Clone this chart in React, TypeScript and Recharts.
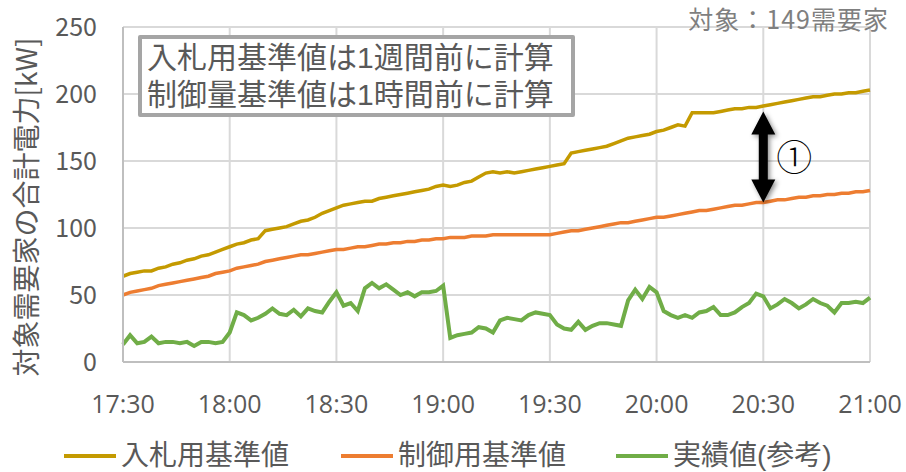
import { CartesianGrid, Line, LineChart, ReferenceLine, XAxis, YAxis } from 'recharts'

// 17:30 から 2分刻み
const timeMinutes = Array.from({ length: 106 }, (_, i) => i * 2)

const xTicks = [0, 30, 60, 90, 120, 150, 180, 210]
const xTickLabels = ['17:30', '18:00', '18:30', '19:00', '19:30', '20:00', '20:30', '21:00']
const yTicks = [0, 50, 100, 150, 200, 250]

const bidBaseline = [
  64, 66, 67, 68, 68, 70, 71, 73, 74, 76, 77, 79, 80, 82, 84, 86, 88, 89, 91, 92,
  98, 99, 100, 101, 103, 105, 106, 108, 111, 113, 115, 117, 118, 119, 120, 120, 122, 123, 124, 125,
  126, 127, 128, 129, 131, 132, 131, 132, 134, 135, 138, 141, 142, 141, 142, 141, 142, 143, 144, 145,
  146, 147, 148, 156, 157, 158, 159, 160, 161, 163, 165, 167, 168, 169, 170, 172, 173, 175, 177, 176,
  186, 186, 186, 186, 187, 188, 189, 189, 190, 190, 191, 192, 193, 194, 195, 196, 197, 198, 198, 199,
  200, 200, 201, 201, 202, 203,
]

const controlBaseline = [
  50, 52, 53, 54, 55, 57, 58, 59, 60, 61, 62, 63, 64, 66, 67, 68, 70, 71, 72, 73,
  75, 76, 77, 78, 79, 80, 80, 81, 82, 83, 84, 84, 85, 86, 86, 87, 88, 88, 89, 89,
  90, 90, 91, 91, 92, 92, 93, 93, 93, 94, 94, 94, 95, 95, 95, 95, 95, 95, 95, 95,
  95, 96, 97, 98, 98, 99, 100, 101, 102, 103, 104, 104, 105, 106, 107, 108, 108, 109, 110, 111,
  112, 113, 113, 114, 115, 116, 117, 117, 118, 119, 119, 120, 121, 121, 122, 123, 123, 124, 124, 125,
  125, 126, 126, 127, 127, 128,
]

const actual = [
  13, 20, 14, 15, 19, 14, 15, 15, 14, 15, 12, 15, 15, 14, 15, 22, 37, 35, 31, 33,
  36, 40, 36, 35, 39, 34, 40, 38, 37, 45, 52, 42, 44, 38, 55, 59, 55, 58, 54, 50,
  52, 49, 52, 52, 53, 57, 18, 20, 21, 22, 26, 25, 22, 31, 33, 32, 31, 35, 37, 36,
  35, 28, 25, 24, 30, 24, 27, 29, 29, 28, 27, 46, 54, 47, 56, 52, 38, 35, 33, 35,
  33, 37, 38, 41, 35, 35, 37, 41, 44, 51, 49, 40, 43, 47, 44, 40, 43, 47, 44, 42,
  37, 44, 44, 45, 44, 48,
]

const seriesNames = ['入札用基準値', '制御用基準値', '実績値(参考)']
const seriesColors = ['#C49A00', '#ED7D31', '#70AD47']

// 矢印①: 20:30 時点の差
const arrowTime = 180
const arrowTop = 187
const arrowBottom = 119

const data = timeMinutes.map((t, i) => ({
  t,
  bid: bidBaseline[i],
  control: controlBaseline[i],
  actual: actual[i],
}))

const GRAY_TEXT = '#595959'
const JP_FONT = '"Noto Sans CJK JP", "Noto Sans", sans-serif'
// ラテン文字を先頭にして行ボックスを詰める
const TIGHT_FONT = '"Liberation Sans", "Noto Sans CJK JP", sans-serif'

function DoubleArrow(props: any) {
  const { x1, y1, y2 } = props
  const top = Math.min(y1, y2)
  const bottom = Math.max(y1, y2)
  const headH = 23
  const headW = 12
  const shaftW = 4.5
  const d = [
    `M${x1},${top}`,
    `L${x1 + headW},${top + headH}`,
    `L${x1 + shaftW},${top + headH}`,
    `L${x1 + shaftW},${bottom - headH}`,
    `L${x1 + headW},${bottom - headH}`,
    `L${x1},${bottom}`,
    `L${x1 - headW},${bottom - headH}`,
    `L${x1 - shaftW},${bottom - headH}`,
    `L${x1 - shaftW},${top + headH}`,
    `L${x1 - headW},${top + headH}`,
    'Z',
  ].join(' ')
  return (
    <g>
      <defs>
        <filter id="arrowShadow" x="-50%" y="-20%" width="200%" height="140%">
          <feDropShadow dx="2" dy="2" stdDeviation="2.5" floodColor="#000" floodOpacity="0.45" />
        </filter>
      </defs>
      <path d={d} fill="#000" filter="url(#arrowShadow)" />
      <text
        x={x1 + 31}
        y={(top + bottom) / 2 - 2}
        fontSize={36}
        fontFamily={JP_FONT}
        fontWeight={300}
        fill="#000"
        textAnchor="middle"
        dominantBaseline="central"
      >
        ①
      </text>
    </g>
  )
}

export default function App() {
  return (
    <div
      style={{
        position: 'absolute',
        left: 0,
        top: 0,
        width: 906,
        height: 472,
        background: '#fff',
        fontFamily: JP_FONT,
        overflow: 'hidden',
      }}
    >
      <LineChart
        width={906}
        height={472}
        data={data}
        margin={{ top: 27, right: 36, left: 0, bottom: 70 }}
      >
        <CartesianGrid stroke="#d9d9d9" strokeWidth={2} />
        <XAxis
          dataKey="t"
          type="number"
          domain={[0, 210]}
          ticks={xTicks}
          tickFormatter={(v: number) => xTickLabels[xTicks.indexOf(v)]}
          height={40}
          tickSize={0}
          tickMargin={33}
          axisLine={{ stroke: '#bfbfbf', strokeWidth: 2 }}
          tick={{ fontSize: 25, fill: GRAY_TEXT, fontFamily: '"Liberation Sans Narrow", "Open Sans", sans-serif' }}
        />
        <YAxis
          domain={[0, 250]}
          ticks={yTicks}
          width={123}
          tickSize={0}
          tickMargin={26}
          axisLine={{ stroke: '#bfbfbf', strokeWidth: 2 }}
          tick={{ fontSize: 25, fill: GRAY_TEXT, fontFamily: JP_FONT }}
          label={{
            content: () => (
              <text
                x={25}
                y={207}
                transform="rotate(-90 25 207)"
                textAnchor="middle"
                dominantBaseline="central"
                fontSize={28}
                fill={GRAY_TEXT}
                fontFamily={JP_FONT}
              >
                対象需要家の合計電力[kW]
              </text>
            ),
          }}
        />
        <Line
          dataKey="bid"
          name={seriesNames[0]}
          stroke={seriesColors[0]}
          strokeWidth={3.5}
          dot={false}
          isAnimationActive={false}
        />
        <Line
          dataKey="control"
          name={seriesNames[1]}
          stroke={seriesColors[1]}
          strokeWidth={3.5}
          dot={false}
          isAnimationActive={false}
        />
        <Line
          dataKey="actual"
          name={seriesNames[2]}
          stroke={seriesColors[2]}
          strokeWidth={4}
          dot={false}
          isAnimationActive={false}
        />
        <ReferenceLine
          segment={[
            { x: arrowTime, y: arrowTop },
            { x: arrowTime, y: arrowBottom },
          ]}
          shape={DoubleArrow}
        />
      </LineChart>

      <div
        style={{
          position: 'absolute',
          left: 138,
          top: 35,
          width: 424,
          height: 74,
          border: '4px solid #a5a5a5',
          borderRadius: 2,
          background: '#fff',
          color: GRAY_TEXT,
          fontFamily: TIGHT_FONT,
          fontSize: 30,
          lineHeight: '37px',
          padding: '0 0 0 5px',
          whiteSpace: 'nowrap',
        }}
      >
        <div style={{ height: 37 }}>入札用基準値は1週間前に計算</div>
        <div style={{ height: 37 }}>制御量基準値は1時間前に計算</div>
      </div>

      <div
        style={{
          position: 'absolute',
          right: 17,
          top: 3,
          fontSize: 25,
          lineHeight: '30px',
          letterSpacing: 1,
          color: '#7f7f7f',
        }}
      >
        対象：149需要家
      </div>

      {seriesNames.map((name, i) => (
        <div
          key={name}
          style={{
            position: 'absolute',
            left: [64, 341, 616][i],
            top: 440,
            display: 'flex',
            alignItems: 'center',
            height: 32,
            lineHeight: '32px',
            color: GRAY_TEXT,
            fontFamily: TIGHT_FONT,
            fontSize: 28,
            whiteSpace: 'nowrap',
          }}
        >
          <span style={{ display: 'inline-block', width: 52, height: 4, background: seriesColors[i], marginRight: 5 }} />
          <span>{name}</span>
        </div>
      ))}
    </div>
  )
}
